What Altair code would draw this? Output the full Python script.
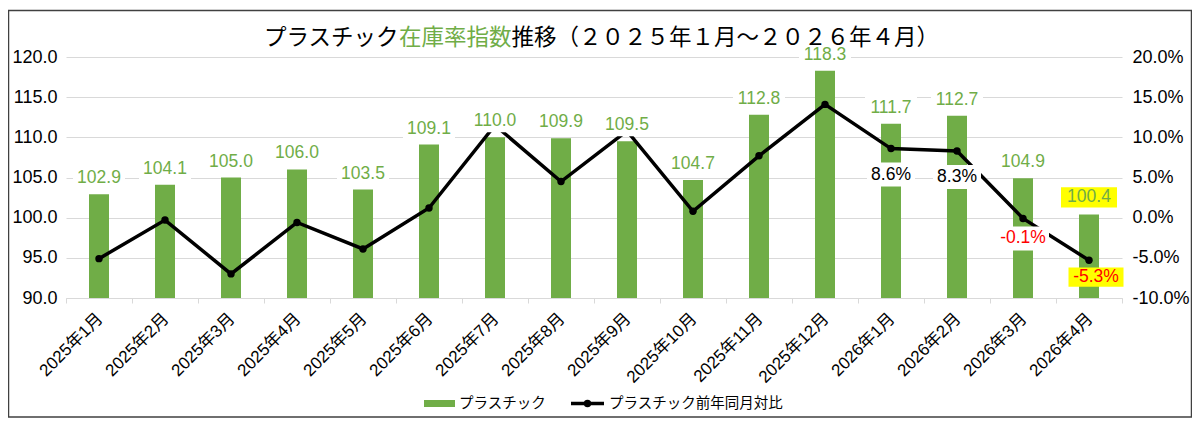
import altair as alt
import pandas as pd

months = ["2025年1月", "2025年2月", "2025年3月", "2025年4月", "2025年5月", "2025年6月",
          "2025年7月", "2025年8月", "2025年9月", "2025年10月", "2025年11月", "2025年12月",
          "2026年1月", "2026年2月", "2026年3月", "2026年4月"]
index_values = [102.9, 104.1, 105.0, 106.0, 103.5, 109.1, 110.0, 109.9, 109.5, 104.7,
                112.8, 118.3, 111.7, 112.7, 104.9, 100.4]
yoy_values = [-5.1, -0.3, -7.0, -0.6, -3.9, 1.2, 11.5, 4.5, 10.8, 0.8,
              7.7, 14.1, 8.6, 8.3, -0.1, -5.3]
left_ticks = [90, 95, 100, 105, 110, 115, 120]
right_ticks = [-10, -5, 0, 5, 10, 15, 20]
pos_label_months = ["2026年1月", "2026年2月"]
neg_label_month = "2026年3月"
highlight_month = "2026年4月"
title_parts = ["プラスチック", "在庫率指数", "推移（２０２５年１月～２０２６年４月）"]
legend_labels = ["プラスチック", "プラスチック前年同月対比"]

GREEN = "#70AD47"
FONT = "Liberation Sans, Arial, Noto Sans CJK JP"
CJK = "Noto Sans CJK JP"
GRID = "#D9D9D9"

df = pd.DataFrame({"month": months, "index": index_values, "yoy": yoy_values})
df["index_label"] = df["index"].map(lambda v: f"{v:.1f}")
df["yoy_label"] = df["yoy"].map(lambda v: f"{v:.1f}%")

x_enc = alt.X("month:N", sort=months,
              scale=alt.Scale(paddingInner=0, paddingOuter=0),
              axis=alt.Axis(title=None, labelAngle=-45, labelFontSize=17, labelFont=FONT,
                            labelColor="#000000", domainColor=GRID, tickColor=GRID,
                            tickSize=5, tickBand="extent", labelPadding=7, labelOffset=-5,
                            grid=False))

left_scale = alt.Scale(domain=[90, 120], nice=False, zero=False)
right_scale = alt.Scale(domain=[-10, 20], nice=False, zero=False)

y_left = alt.Y("index:Q", scale=left_scale,
               axis=alt.Axis(values=left_ticks, format=".1f", title=None, orient="left",
                             grid=True, gridColor=GRID, domain=False, ticks=False, tickSize=0,
                             labelFontSize=18, labelFont=FONT, labelColor="#000000",
                             labelPadding=9))
y_left_noaxis = alt.Y("index:Q", scale=left_scale, axis=None)

y_right = alt.Y("yoy:Q", scale=right_scale,
                axis=alt.Axis(values=right_ticks, title=None, orient="right", grid=False,
                              domain=False, ticks=False, tickSize=0,
                              labelExpr="replace(format(datum.value, '.1f'), '\u2212', '-') + '%'",
                              labelFontSize=18, labelFont=FONT, labelColor="#000000",
                              labelPadding=10))
y_right_noaxis = alt.Y("yoy:Q", scale=right_scale, axis=None)

base = alt.Chart(df)

bars = base.mark_bar(color=GREEN, size=20).encode(x=x_enc, y=y_left, y2=alt.datum(90))

line = base.mark_line(color="black", strokeWidth=3.5,
                      point=alt.OverlayMarkDef(color="black", filled=True, size=55, opacity=1)
                      ).encode(x=x_enc, y=y_right)

def box_path(ratio):
    return f"M-1,-{ratio}L1,-{ratio}L1,{ratio}L-1,{ratio}Z"

bar_boxes = base.mark_point(shape=box_path(0.42), size=52 ** 2, filled=True, color="white",
                            opacity=1, strokeWidth=0, yOffset=-16
                            ).encode(x=x_enc, y=y_left_noaxis
                            ).transform_filter(alt.datum.month != highlight_month)
bar_texts = base.mark_text(color=GREEN, fontSize=17.5, font=FONT, baseline="middle",
                           yOffset=-16).encode(x=x_enc, y=y_left_noaxis, text="index_label:N"
                           ).transform_filter(alt.datum.month != highlight_month)
hl_box = base.mark_point(shape=box_path(0.36), size=56 ** 2, filled=True, color="#FFFF00",
                         opacity=1, strokeWidth=0, yOffset=-17
                         ).encode(x=x_enc, y=y_left_noaxis
                         ).transform_filter(alt.datum.month == highlight_month)
hl_text = base.mark_text(color=GREEN, fontSize=17.5, font=FONT, baseline="middle",
                         yOffset=-17).encode(x=x_enc, y=y_left_noaxis, text="index_label:N"
                         ).transform_filter(alt.datum.month == highlight_month)

pos_filter = alt.FieldOneOfPredicate(field="month", oneOf=pos_label_months)
pos_boxes = base.mark_point(shape=box_path(0.5), size=48 ** 2, filled=True, color="white",
                            opacity=1, strokeWidth=0, yOffset=26
                            ).encode(x=x_enc, y=y_right_noaxis).transform_filter(pos_filter)
pos_texts = base.mark_text(color="black", fontSize=17.5, font=FONT, baseline="middle",
                           yOffset=26).encode(x=x_enc, y=y_right_noaxis, text="yoy_label:N"
                           ).transform_filter(pos_filter)
neg_boxes = base.mark_point(shape=box_path(0.46), size=52 ** 2, filled=True, color="white",
                            opacity=1, strokeWidth=0, yOffset=20
                            ).encode(x=x_enc, y=y_right_noaxis
                            ).transform_filter(alt.datum.month == neg_label_month)
neg_texts = base.mark_text(color="#FF0000", fontSize=17.5, font=FONT, baseline="middle",
                           yOffset=20).encode(x=x_enc, y=y_right_noaxis, text="yoy_label:N"
                           ).transform_filter(alt.datum.month == neg_label_month)
hl2_box = base.mark_point(shape=box_path(0.35), size=55 ** 2, filled=True, color="#FFFF00",
                          opacity=1, strokeWidth=0, yOffset=17, xOffset=7
                          ).encode(x=x_enc, y=y_right_noaxis
                          ).transform_filter(alt.datum.month == highlight_month)
hl2_text = base.mark_text(color="#FF0000", fontSize=17.5, font=FONT, baseline="middle",
                          yOffset=17, xOffset=7).encode(x=x_enc, y=y_right_noaxis,
                                                        text="yoy_label:N"
                          ).transform_filter(alt.datum.month == highlight_month)

one = alt.Data(values=[{}])

frame = alt.Chart(one).mark_rect(filled=False, stroke="#404040", strokeWidth=1.5).encode(
    x=alt.value(-57.5), x2=alt.value(1125.5), y=alt.value(-46.5), y2=alt.value(360))

t_size = 22.5
t_x0 = 198
title_layers = []
offset = 0
for part, col in zip(title_parts, ["#000000", GREEN, "#000000"]):
    title_layers.append(
        alt.Chart(one).mark_text(text=part, align="left", baseline="middle", fontSize=t_size,
                                 font=CJK, color=col)
        .encode(x=alt.value(t_x0 + offset), y=alt.value(-19)))
    offset += len(part) * t_size

leg_y = 346.5
leg_swatch = alt.Chart(one).mark_rect(color=GREEN).encode(
    x=alt.value(358), x2=alt.value(389), y=alt.value(leg_y - 3.5), y2=alt.value(leg_y + 3.5))
leg_text1 = alt.Chart(one).mark_text(text=legend_labels[0], align="left", baseline="middle",
                                     fontSize=14.5, font=CJK, color="#000000").encode(
    x=alt.value(393), y=alt.value(leg_y))
leg_line = alt.Chart(one).mark_rule(color="black", strokeWidth=3.5).encode(
    x=alt.value(505), x2=alt.value(538), y=alt.value(leg_y))
leg_dot = alt.Chart(one).mark_point(color="black", filled=True, size=55, opacity=1).encode(
    x=alt.value(521.5), y=alt.value(leg_y))
leg_text2 = alt.Chart(one).mark_text(text=legend_labels[1], align="left", baseline="middle",
                                     fontSize=14.5, font=CJK, color="#000000").encode(
    x=alt.value(543), y=alt.value(leg_y))

chart = alt.layer(
    frame, bars, line, bar_boxes, bar_texts, hl_box, hl_text,
    pos_boxes, pos_texts, neg_boxes, neg_texts, hl2_box, hl2_text,
    *title_layers, leg_swatch, leg_text1, leg_line, leg_dot, leg_text2
).resolve_scale(y="independent").properties(
    width=1056, height=241,
    autosize=alt.AutoSizeParams(type="none"),
    padding={"left": 58, "top": 49, "right": 70, "bottom": 120},
    background="white",
).configure_view(strokeWidth=0)

chart.save("out.html", embed_options={"renderer": "svg", "actions": False})
